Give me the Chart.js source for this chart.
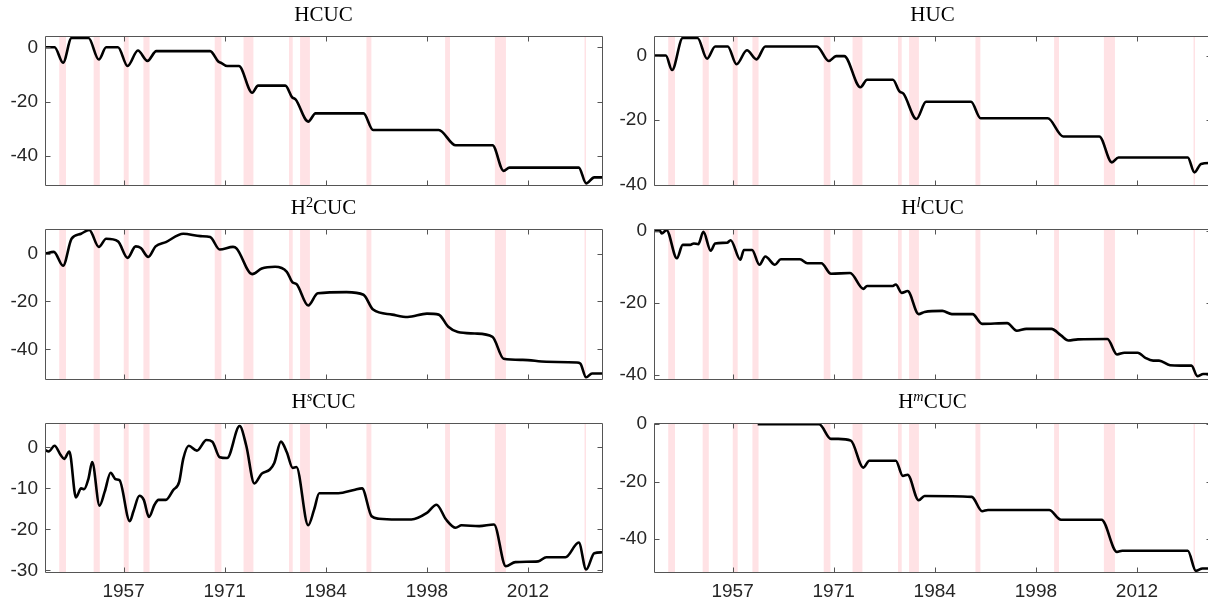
<!DOCTYPE html>
<html>
<head>
<meta charset="utf-8">
<script src="https://cdn.jsdelivr.net/npm/chart.js@4.4.1/dist/chart.umd.min.js"></script>
<style>
  body { margin: 0; background: #fff; }
  #wrap { position: relative; width: 1208px; height: 603px; overflow: hidden; background: #fff; }
  canvas { position: absolute; }
  .ttl { position: absolute; width: 300px; text-align: center; white-space: nowrap;
         font-family: "Liberation Serif", serif; font-size: 21px; line-height: 21px; color: #000; z-index: 5; }
  .ttl sup { font-size: 0.68em; line-height: 0; vertical-align: 0.5em; }
</style>
</head>
<body>
<div id="wrap">
  <div class="ttl" id="t0">HCUC</div>
  <div class="ttl" id="t1">HUC</div>
  <div class="ttl" id="t2">H<sup>2</sup>CUC</div>
  <div class="ttl" id="t3">H<sup><i>l</i></sup>CUC</div>
  <div class="ttl" id="t4">H<sup><i>s</i></sup>CUC</div>
  <div class="ttl" id="t5">H<sup><i>m</i></sup>CUC</div>
  <canvas id="c0"></canvas>
  <canvas id="c1"></canvas>
  <canvas id="c2"></canvas>
  <canvas id="c3"></canvas>
  <canvas id="c4"></canvas>
  <canvas id="c5"></canvas>
</div>
<script>
// x axis (decimal years)
const xMin = 1946.9, xMax = 2022.45;
const xTickVals = [1957.56, 1971.27, 1984.98, 1998.70, 2012.41];
const xTickLabels = ['1957', '1971', '1984', '1998', '2012'];

// NBER recessions (start, end)
const recStart = [1948.83, 1953.50, 1957.58, 1960.25, 1969.92, 1973.83, 1980.00, 1981.50, 1990.50, 2001.17, 2007.92, 2020.08];
const recEnd   = [1949.75, 1954.33, 1958.25, 1961.08, 1970.83, 1975.17, 1980.50, 1982.83, 1991.17, 2001.83, 2009.42, 2020.25];

// series: [year, value]
const hcuc = [[1946.9,0],[1948.2,0],[1949.35,-5.7],[1950.5,3.4],[1952.8,3.4],[1954.2,-4.5],[1955.2,0],[1956.8,0],
  [1958.1,-6.9],[1959.5,-1.2],[1960.8,-5.0],[1962.0,-1.4],[1969.3,-1.4],[1970.4,-5.2],[1970.9,-5.9],[1971.6,-6.9],
  [1973.2,-6.9],[1975.0,-16.7],[1975.8,-14.1],[1979.5,-14.1],[1980.4,-18.3],[1980.9,-19.2],[1982.6,-27.3],[1983.6,-24.3],
  [1990.1,-24.3],[1991.4,-30.4],[2000.3,-30.4],[2002.6,-36.0],[2007.6,-36.0],[2009.1,-45.4],[2009.9,-44.2],[2019.3,-44.2],
  [2020.3,-50.0],[2021.4,-47.8],[2022.45,-47.8]];

const huc = [[1946.9,0],[1948.5,0],[1949.35,-4.5],[1950.8,5.4],[1952.8,5.4],[1954.1,-1.0],[1955.2,2.8],[1956.9,2.8],
  [1958.1,-2.7],[1959.5,1.6],[1960.8,-1.2],[1962.0,2.8],[1969.0,2.8],[1970.6,-1.7],[1971.6,-0.2],[1972.7,-0.2],
  [1974.9,-9.8],[1975.8,-7.5],[1979.3,-7.5],[1980.2,-11.1],[1980.75,-11.8],[1982.5,-19.6],[1983.8,-14.3],[1989.9,-14.3],
  [1991.2,-19.4],[2000.3,-19.4],[2002.4,-25.0],[2007.3,-25.0],[2009.0,-33.0],[2009.9,-31.5],[2019.3,-31.5],
  [2020.2,-36.1],[2021.1,-33.5],[2022.45,-33.2]];

const h2cuc = [[1946.9,0],[1948.1,0.7],[1949.35,-5.1],[1950.5,6.2],[1951.8,8.3],[1952.9,9.9],[1954.2,2.8],[1955.2,6.2],
  [1956.8,5.1],[1958.1,-1.8],[1959.2,3.0],[1959.9,2.3],[1960.9,-1.4],[1961.9,3.0],[1963.3,4.8],[1965.65,8.3],[1968.0,7.3],
  [1969.3,6.9],[1970.6,1.7],[1972.4,2.8],[1972.9,2.1],[1975.0,-8.6],[1976.3,-6.2],[1978.1,-5.5],[1979.7,-7.6],
  [1980.5,-12.1],[1981.0,-12.7],[1982.6,-21.7],[1983.9,-16.6],[1987.8,-16.1],[1990.1,-17.2],[1991.4,-23.4],[1994.0,-25.5],
  [1996.1,-26.5],[1998.7,-25.1],[2000.3,-25.5],[2001.6,-30.6],[2002.9,-32.8],[2005.2,-33.4],[2007.6,-34.8],[2009.1,-43.9],
  [2011.7,-44.4],[2014.9,-45.2],[2019.0,-45.5],[2019.5,-45.9],[2020.3,-51.7],[2021.1,-50.1],[2022.45,-50.1]];

const hlcuc = [[1946.9,0],[1947.7,0],[1947.95,-0.7],[1948.6,0.2],[1950.0,-7.6],[1950.8,-3.9],[1951.8,-3.9],[1952.3,-3.5],
  [1952.9,-3.7],[1953.6,-0.3],[1954.6,-5.5],[1955.2,-3.5],[1956.8,-3.3],[1957.3,-2.6],[1958.6,-8.0],[1959.1,-5.3],
  [1960.2,-5.3],[1961.2,-9.4],[1962.0,-7.1],[1963.3,-9.4],[1964.1,-7.9],[1966.7,-7.9],[1967.7,-9.0],[1969.6,-9.0],
  [1970.9,-11.9],[1973.5,-11.7],[1975.3,-16.1],[1975.8,-15.3],[1979.2,-15.3],[1979.7,-14.9],[1980.5,-17.2],[1981.3,-16.7],
  [1982.8,-23.1],[1983.6,-22.5],[1986.0,-22.2],[1987.3,-23.1],[1990.1,-23.1],[1991.4,-25.8],[1994.8,-25.6],[1996.1,-27.7],
  [1997.4,-27.2],[2000.8,-27.2],[2002.1,-29.0],[2003.1,-30.4],[2004.4,-30.1],[2008.4,-30.0],[2009.7,-34.3],[2010.7,-33.8],
  [2012.5,-33.8],[2013.6,-35.3],[2014.6,-36.0],[2015.4,-36.0],[2016.9,-37.3],[2018.3,-37.4],[2019.8,-37.4],[2020.6,-40.3],
  [2021.4,-39.7],[2022.45,-39.7]];

const hscuc = [[1946.9,-0.6],[1947.4,-1.0],[1948.2,0.4],[1949.0,-1.8],[1949.5,-2.8],[1950.2,-1.0],[1951.1,-12.2],[1951.8,-10.0],
  [1952.2,-10.2],[1952.8,-7.6],[1953.3,-3.6],[1954.3,-14.2],[1955.0,-10.8],[1955.8,-6.2],[1956.5,-7.8],[1957.0,-8.0],
  [1958.4,-18.0],[1958.9,-15.6],[1959.7,-11.8],[1960.3,-12.8],[1961.0,-17.0],[1961.75,-14.0],[1962.3,-12.8],[1963.3,-12.8],
  [1964.3,-10.4],[1965.1,-8.4],[1965.65,-2.8],[1966.4,0.4],[1967.5,-0.8],[1968.8,1.8],[1969.6,1.4],[1970.6,-2.4],
  [1971.6,-2.6],[1973.3,5.2],[1974.2,0.4],[1975.3,-8.8],[1976.3,-6.4],[1977.4,-5.4],[1978.0,-3.8],[1978.9,1.4],
  [1979.7,-1.2],[1980.5,-5.0],[1981.0,-4.8],[1982.6,-19.0],[1983.4,-15.2],[1984.1,-11.2],[1986.7,-11.2],[1988.8,-10.4],
  [1989.9,-10.0],[1991.2,-16.8],[1992.2,-17.4],[1994.6,-17.6],[1996.6,-17.6],[1998.7,-16.0],[2000.0,-14.0],[2001.3,-17.6],
  [2002.6,-19.6],[2003.4,-19.0],[2005.8,-19.2],[2007.8,-18.8],[2009.4,-29.0],[2010.7,-28.0],[2013.8,-27.8],[2014.9,-26.8],
  [2017.5,-26.8],[2019.3,-23.2],[2020.3,-29.8],[2021.4,-25.8],[2022.45,-25.6]];

const hmcuc = [[1960.96,0],[1969.3,0],[1970.9,-5.1],[1971.9,-5.1],[1973.6,-5.7],[1975.3,-15.1],[1976.1,-12.7],[1979.7,-12.7],
  [1980.65,-18.0],[1981.3,-17.6],[1982.8,-26.5],[1983.6,-25.0],[1990.0,-25.3],[1991.4,-30.3],[1992.2,-29.9],[2000.5,-29.9],
  [2002.1,-33.3],[2007.6,-33.3],[2009.7,-44.5],[2010.4,-44.1],[2019.3,-44.1],[2020.4,-51.1],[2021.3,-50.3],[2022.45,-50.3]];

// y limits and ticks per panel
const yLims = [[-50.6, 4.0], [-40, 5.9], [-52.4, 10.1], [-41.1, 0.4], [-30.4, 5.85], [-51.5, 0.3]];
const yTicks20 = [-40, -20, 0];
const yTicks10 = [-30, -20, -10, 0];

// layout
const colLeft = [0, 604], colW = [604, 610], yAxisW = [45, 50], padRight = [2, 3];
const rowTop = [34, 227, 421], rowBottom = [185, 379, 572];
const padTop = 16, xAxisH = 32;
const axisColor = '#555555', labelColor = '#262626', bandColor = 'rgb(255,226,229)';
const tickFont = { family: '"Liberation Sans", Arial, sans-serif', size: 19 };

const bandsPlugin = {
  id: 'bands',
  beforeDatasetsDraw(chart) {
    const { ctx, chartArea: a, scales: { x } } = chart;
    ctx.save();
    ctx.beginPath(); ctx.rect(a.left, a.top, a.right - a.left, a.bottom - a.top); ctx.clip();
    ctx.fillStyle = bandColor;
    recStart.forEach((s, i) => {
      const x0 = x.getPixelForValue(s), x1 = x.getPixelForValue(recEnd[i]);
      ctx.fillRect(x0, a.top, Math.max(x1 - x0, 1.5), a.bottom - a.top);
    });
    ctx.restore();
  }
};

// MATLAB-style box with inward ticks on all four sides
const boxPlugin = {
  id: 'box',
  afterDatasetsDraw(chart) {
    const { ctx, chartArea: a, scales: { x, y } } = chart;
    const L = Math.round(a.left) + 0.5, R = Math.round(a.right) + 0.5;
    const T = Math.round(a.top) + 0.5, B = Math.round(a.bottom) + 0.5;
    ctx.save();
    ctx.strokeStyle = axisColor; ctx.lineWidth = 1;
    ctx.beginPath();
    ctx.rect(L, T, R - L, B - T);
    x.ticks.forEach(t => {
      const px = Math.round(x.getPixelForValue(t.value)) + 0.5;
      ctx.moveTo(px, B); ctx.lineTo(px, B - 5);
      ctx.moveTo(px, T); ctx.lineTo(px, T + 5);
    });
    y.ticks.forEach(t => {
      const py = Math.round(y.getPixelForValue(t.value)) + 0.5;
      ctx.moveTo(L, py); ctx.lineTo(L + 5, py);
      ctx.moveTo(R, py); ctx.lineTo(R - 5, py);
    });
    ctx.stroke();
    ctx.restore();
  }
};

function makePanel(i, series, yTicks, showX) {
  const col = i % 2, row = Math.floor(i / 2);
  const cv = document.getElementById('c' + i);
  cv.width = colW[col];
  cv.height = rowBottom[row] - rowTop[row] + padTop + xAxisH;
  cv.style.left = colLeft[col] + 'px';
  cv.style.top = (rowTop[row] - padTop) + 'px';

  const t = document.getElementById('t' + i);
  const cx = colLeft[col] + yAxisW[col] + (colW[col] - yAxisW[col] - padRight[col]) / 2;
  t.style.left = (cx - 150) + 'px';
  t.style.top = (rowTop[row] - 30) + 'px';

  return new Chart(cv.getContext('2d'), {
    type: 'line',
    data: {
      datasets: [{
        data: series.map(p => ({ x: p[0], y: p[1] })),
        borderColor: '#000', borderWidth: 2.6, pointRadius: 0,
        cubicInterpolationMode: 'monotone', fill: false, clip: 0
      }]
    },
    options: {
      responsive: false, animation: false, devicePixelRatio: 1,
      layout: { padding: { top: padTop, right: padRight[col], left: 0, bottom: 0 } },
      plugins: { legend: { display: false }, tooltip: { enabled: false } },
      scales: {
        x: {
          type: 'linear', min: xMin, max: xMax,
          afterBuildTicks: s => { s.ticks = xTickVals.map(v => ({ value: v })); },
          afterFit: s => { s.height = xAxisH; },
          grid: { display: false, drawTicks: false }, border: { display: false },
          ticks: { display: showX, autoSkip: false, maxRotation: 0, padding: 8, color: labelColor, font: tickFont,
                   callback: (v, idx) => xTickLabels[idx] }
        },
        y: {
          min: yLims[i][0], max: yLims[i][1],
          afterBuildTicks: s => { s.ticks = yTicks.map(v => ({ value: v })); },
          afterFit: s => { s.width = yAxisW[col]; },
          grid: { display: false, drawTicks: false }, border: { display: false },
          ticks: { padding: 7, color: labelColor, font: tickFont }
        }
      }
    },
    plugins: [bandsPlugin, boxPlugin]
  });
}

makePanel(0, hcuc, yTicks20, false);
makePanel(1, huc, yTicks20, false);
makePanel(2, h2cuc, yTicks20, false);
makePanel(3, hlcuc, yTicks20, false);
makePanel(4, hscuc, yTicks10, true);
makePanel(5, hmcuc, yTicks20, true);
</script>
</body>
</html>
